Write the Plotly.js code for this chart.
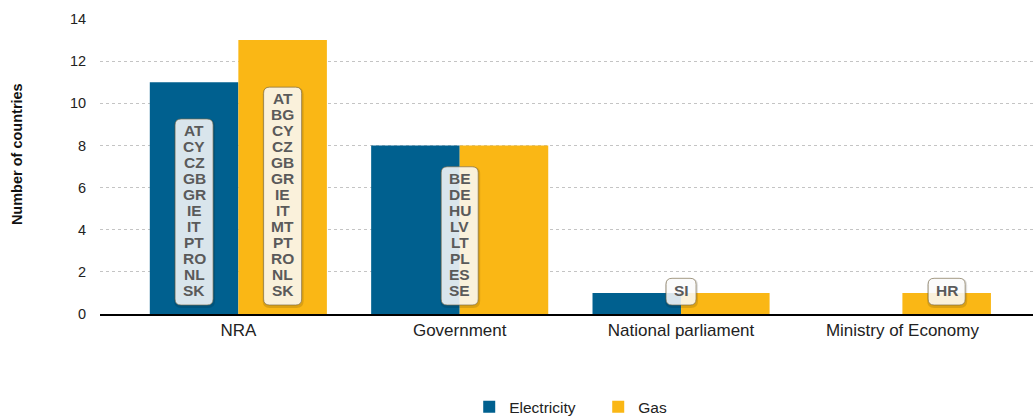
<!DOCTYPE html>
<html>
<head>
<meta charset="utf-8">
<script src="https://cdn.plot.ly/plotly-3.0.1.min.js"></script>
<style>html,body{margin:0;padding:0;background:#fff;}#chart{width:1033px;height:419px;}</style>
</head>
<body>
<div id="chart"></div>
<script>
// ---- data ----
var categories = ['NRA', 'Government', 'National parliament', 'Ministry of Economy'];
var electricity = [11, 8, 1, 0];
var gas = [13, 8, 1, 1];
var yTicks = [0, 2, 4, 6, 8, 10, 12, 14];

// country-code label groups: category index, offset within group, codes
var nraElecCodes = ['AT','CY','CZ','GB','GR','IE','IT','PT','RO','NL','SK'];
var nraGasCodes = ['AT','BG','CY','CZ','GB','GR','IE','IT','MT','PT','RO','NL','SK'];
var govCodes = ['BE','DE','HU','LV','LT','PL','ES','SE'];
var parlCodes = ['SI'];
var ministryGasCodes = ['HR'];

var labelGroups = [
  {cat: 0, side: -1, codes: nraElecCodes},
  {cat: 0, side: 1, codes: nraGasCodes},
  {cat: 1, side: 0, codes: govCodes},
  {cat: 2, side: 0, codes: parlCodes},
  {cat: 3, side: 1, codes: ministryGasCodes}
];

// ---- styling ----
var BLUE = '#00608f';
var YELLOW = '#fab715';
var codeFont = '"Liberation Sans Narrow", "Arial Narrow", "Liberation Sans", Arial, sans-serif';

var traces = [
  {type: 'bar', name: 'Electricity', x: [0,1,2,3], y: electricity, marker: {color: BLUE}, hoverinfo: 'none'},
  {type: 'bar', name: 'Gas', x: [0,1,2,3], y: gas, marker: {color: YELLOW}, hoverinfo: 'none'}
];

var cv = document.createElement('canvas').getContext('2d');
cv.font = 'bold 15.5px ' + codeFont;

var shapes = [];
var annotations = [];
var LINE = 15.93, BOT = 9, PAD_TOP = 11.7, PAD_BOT = 15;
function rr(l, r, b, t, rad) {
  return 'M' + (l+rad) + ',' + b + ' L' + (r-rad) + ',' + b + ' Q' + r + ',' + b + ' ' + r + ',' + (b+rad) +
    ' L' + r + ',' + (t-rad) + ' Q' + r + ',' + t + ' ' + (r-rad) + ',' + t +
    ' L' + (l+rad) + ',' + t + ' Q' + l + ',' + t + ' ' + l + ',' + (t-rad) +
    ' L' + l + ',' + (b+rad) + ' Q' + l + ',' + b + ' ' + (l+rad) + ',' + b + ' Z';
}
labelGroups.forEach(function(g) {
  var xc = g.cat + g.side * 0.2;
  var n = g.codes.length;
  var maxW = 0;
  g.codes.forEach(function(c) { maxW = Math.max(maxW, cv.measureText(c).width); });
  var w = Math.max(28, Math.round(maxW) + 15);
  var b = BOT, t = BOT + (n - 1) * LINE + PAD_TOP + PAD_BOT;
  var l = -w / 2, r = w / 2;
  // soft shadow
  shapes.push({type: 'path', xref: 'x', yref: 'y', xsizemode: 'pixel', ysizemode: 'pixel',
    xanchor: xc, yanchor: 0, path: rr(l - 1, r + 2, b - 3, t + 0, 7),
    fillcolor: 'rgba(0,0,0,0.12)', line: {width: 0}, layer: 'above'});
  shapes.push({type: 'path', xref: 'x', yref: 'y', xsizemode: 'pixel', ysizemode: 'pixel',
    xanchor: xc, yanchor: 0, path: rr(l, r, b, t, 6),
    fillcolor: 'rgba(255,255,255,0.85)', line: {color: 'rgba(120,105,70,0.65)', width: 1}, layer: 'above'});
  g.codes.forEach(function(c, i) {
    annotations.push({x: xc, y: 0, xref: 'x', yref: 'y', text: c, showarrow: false,
      xanchor: 'center', yanchor: 'middle', yshift: BOT + PAD_BOT + (n - 1 - i) * LINE,
      font: {family: codeFont, size: 15.5, color: '#5a5a5a', weight: 'bold'}});
  });
});

annotations.push({xref: 'paper', yref: 'paper', x: 0, y: 0.542, xshift: -83, xanchor: 'center', yanchor: 'middle',
  text: '<b>Number of countries</b>', textangle: -90, showarrow: false,
  font: {family: '"Liberation Sans", Arial, sans-serif', size: 14.5, color: '#111'}});

var layout = {
  width: 1033, height: 419,
  margin: {l: 100, r: 0, t: 19, b: 105, autoexpand: false},
  paper_bgcolor: '#fff', plot_bgcolor: '#fff',
  barmode: 'group', bargap: 0.2, bargroupgap: 0,
  showlegend: true,
  legend: {orientation: 'h', x: 0.534, xanchor: 'center', yref: 'container', y: 0.028, yanchor: 'middle',
    entrywidth: 84, entrywidthmode: 'pixels',
    font: {family: '"Liberation Sans", Arial, sans-serif', size: 15.5, color: '#222'}, itemclick: false},
  xaxis: {range: [-0.625, 3.59], tickmode: 'array', tickvals: [0,1,2,3], ticktext: categories,
    showgrid: false, zeroline: false, showline: true, linecolor: '#000', linewidth: 1.6,
    ticks: '', tickfont: {family: '"Liberation Sans", Arial, sans-serif', size: 17, color: '#222'}, fixedrange: true},
  yaxis: {range: [0, 14], tickmode: 'array', tickvals: yTicks, showgrid: true, gridcolor: '#c4c4c4', griddash: 'dot', gridwidth: 1,
    zeroline: false, showline: false, ticks: 'outside', ticklen: 10, tickcolor: 'rgba(0,0,0,0)',
    tickfont: {family: '"Liberation Sans", Arial, sans-serif', size: 14.5, color: '#222'}, fixedrange: true},
  shapes: shapes,
  annotations: annotations
};

Plotly.newPlot('chart', traces, layout, {displayModeBar: false, staticPlot: true});
</script>
</body>
</html>
